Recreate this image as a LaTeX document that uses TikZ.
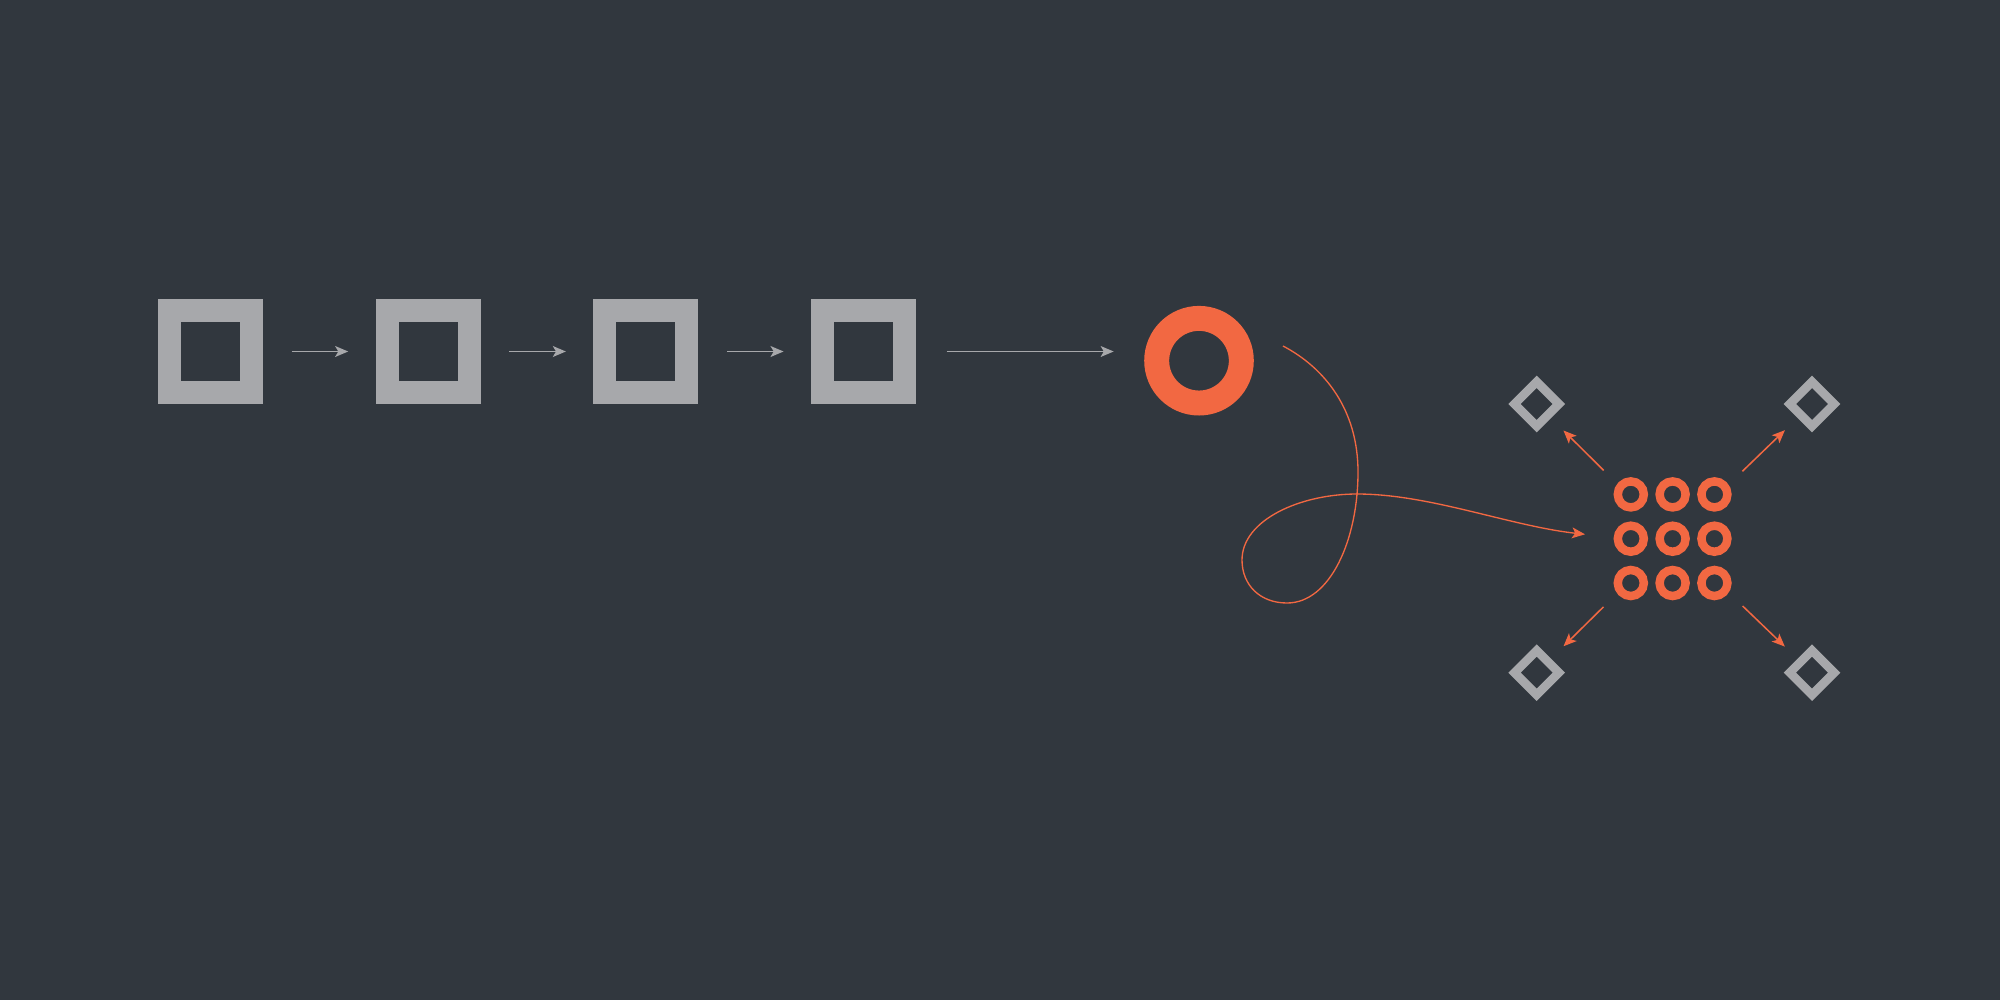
\documentclass[tikz,border=0pt]{standalone}
\usetikzlibrary{arrows.meta}
\definecolor{bgcol}{HTML}{31373E}
\definecolor{grcol}{HTML}{A7A8AB}
\definecolor{orcol}{HTML}{F26842}
\tikzset{
	sqbox/.style={draw=grcol,line width=6.52pt,minimum size=0.82cm,inner sep=0pt,outer sep=0pt},
	dmbox/.style={draw=grcol,line width=2.47pt,minimum size=0.313cm,inner sep=0pt,outer sep=0pt,rotate=45},
	bigring/.style={circle,draw=orcol,line width=7.09pt,minimum size=0.846cm,inner sep=0pt,outer sep=0pt},
	smring/.style={circle,draw=orcol,line width=2.41pt,minimum size=0.26cm,inner sep=0pt,outer sep=0pt},
	tip/.style={-{Stealth[length=3.7pt,width=3.1pt,inset=0.9pt]}},
	grayarrow/.style={tip,draw=grcol,line width=0.43pt},
	orarrow/.style={tip,draw=orcol,line width=0.43pt},
}
\begin{document}
\begin{tikzpicture}[x=0.01cm,y=-0.01cm]
	\fill[bgcol] (0,0) rectangle (2000,1000);
	\def\dx{217.7}
	\def\gx{1672.6}%centre of the ring grid
	\def\gy{538.7}
	% chain of squares
	\foreach \i in {1,...,4}{
		\node[sqbox] (s\i) at ({210.5+\dx*(\i-1)},351.5) {};
	}
	\foreach \i/\j in {1/2,2/3,3/4}{
		\draw[grayarrow,shorten <=0.40cm,shorten >=0.39cm] (s\i) -- (s\j);
	}
	\node[bigring] (ring) at (1199,360.7) {};
	\draw[grayarrow,shorten <=0.42cm,shorten >=0.43cm] (s4) -- (s4 -| ring.west);
	% loop into the grid
	\coordinate (loopA) at (1283,346);
	\coordinate (gridin) at (1585,534.3);
	\draw[orarrow,line width=0.38pt] (loopA) .. controls (1325,368) and (1358,410) .. (1358,472)
		.. controls (1358,540) and (1330,603) .. (1287,603)
		.. controls (1260,603) and (1242,585) .. (1242,560)
		.. controls (1242,520) and (1300,494) .. (1357,494)
		.. controls (1430,494) and (1510,526) .. (gridin);
	\coordinate (grid) at (\gx,\gy);
	\foreach \r in {1,2,3}{
		\foreach \c in {1,2,3}{
			\node[smring] (c\r\c) at ({\gx+41.8*(\c-2)},{\gy+44.3*(\r-2)}) {};
		}
	}
	% diamonds round the grid
	\foreach \n/\x/\y in {1/1536.7/404,2/1812/404,3/1536.7/672.7,4/1812/672.7}{
		\node[dmbox] (d\n) at (\x,\y) {};
		\draw[orarrow,shorten <=0.97cm,shorten >=0.22cm] (grid) -- (d\n);
	}
\end{tikzpicture}
\end{document}
